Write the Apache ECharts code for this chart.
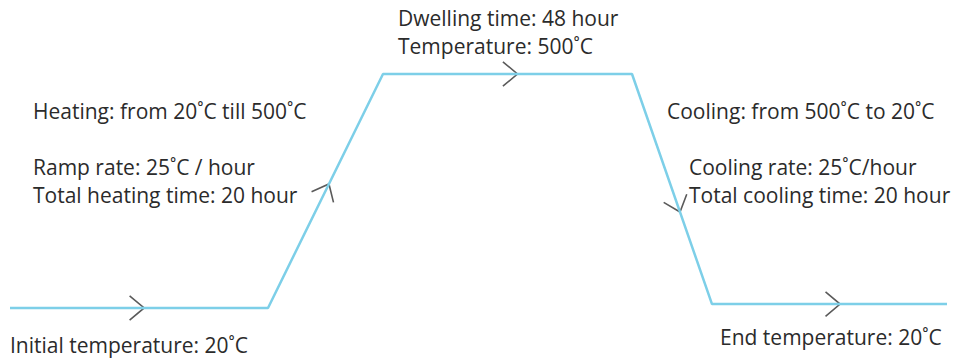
<!DOCTYPE html>
<html>
<head>
<meta charset="utf-8">
<script src="https://cdn.jsdelivr.net/npm/echarts@6/dist/echarts.min.js"></script>
<style>
html,body{margin:0;padding:0;background:#fff;}
#chart{width:959px;height:360px;}
</style>
</head>
<body>
<div id="chart"></div>
<script>
// Schematic time positions of profile corners and temperatures (°C)
var profileX = [10, 268, 383, 632, 712, 947];
var profileTemp = [20, 20, 500, 500, 28, 28];
// Direction arrows: segment index and fractional position along it
var arrowSeg = [0, 1, 2, 3, 4];
var arrowFrac = [0.52, 0.53, 0.54, 0.60, 0.545];
// Annotation texts
var labels = [
  'Dwelling time: 48 hour',
  'Temperature: 500˚C',
  'Heating: from 20˚C till 500˚C',
  'Ramp rate: 25˚C / hour',
  'Total heating time: 20 hour',
  'Cooling: from 500˚C to 20˚C',
  'Cooling rate: 25˚C/hour',
  'Total cooling time: 20 hour',
  'Initial temperature: 20˚C',
  'End temperature: 20˚C'
];
var labelPos = [[398,18],[398,46],[33,111],[33,167],[33,195],[667,111],[689,167],[689,195],[10,345],[720,337]];

var chart = echarts.init(document.getElementById('chart'), null, {renderer:'svg'});
var FONT = '"Open Sans"';
var FS = 21;
var graphics = labels.map(function(t,i){
  return {type:'text', x:labelPos[i][0], y:labelPos[i][1],
    style:{text:t, fill:'#2b2b2b', font: FS+'px '+FONT, textVerticalAlign:'middle', textAlign:'left'}};
});
chart.setOption({
  backgroundColor:'#ffffff',
  animation:false,
  grid:{left:0,right:0,top:0,bottom:0},
  xAxis:{type:'value', min:0, max:959, show:false},
  yAxis:{type:'value', min:-86.7, max:651.8, show:false},
  graphic:graphics,
  series:[
    {type:'line', data:profileX.map(function(x,i){return [x, profileTemp[i]];}),
     symbol:'none', lineStyle:{color:'#7dcfe8', width:2.5}, silent:true},
    {type:'custom', data:arrowSeg.map(function(s,i){return [s, arrowFrac[i]];}),
     renderItem:function(params, api){
       var s = api.value(0), f = api.value(1);
       var p0 = api.coord([profileX[s], profileTemp[s]]);
       var p1 = api.coord([profileX[s+1], profileTemp[s+1]]);
       var tip = [p0[0]+f*(p1[0]-p0[0]), p0[1]+f*(p1[1]-p0[1])];
       var dx = p1[0]-p0[0], dy = p1[1]-p0[1];
       var L = Math.sqrt(dx*dx+dy*dy);
       var bx = -dx/L, by = -dy/L;
       var a = 40*Math.PI/180, len = 19;
       function rot(ang){return [tip[0]+len*(bx*Math.cos(ang)-by*Math.sin(ang)), tip[1]+len*(bx*Math.sin(ang)+by*Math.cos(ang))];}
       return {type:'polyline', shape:{points:[rot(a), tip, rot(-a)]},
         style:{stroke:'#5a5a5a', lineWidth:1.6, fill:null}};
     }, silent:true}
  ]
});
</script>
</body>
</html>
